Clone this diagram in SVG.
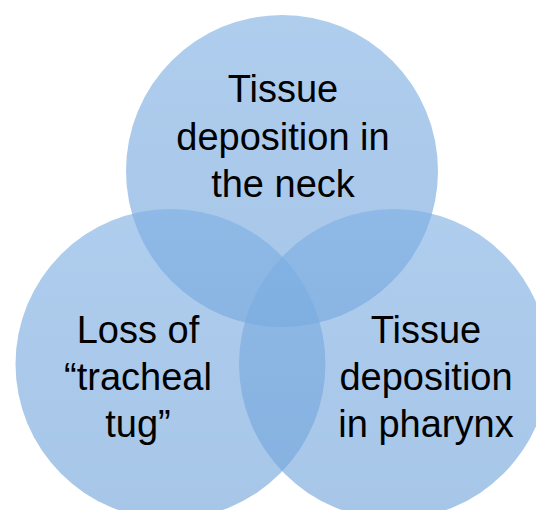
<svg xmlns="http://www.w3.org/2000/svg" width="536" height="510" viewBox="0 0 536 510">
  <defs>
    <linearGradient id="g" x1="0" y1="0" x2="0" y2="1">
      <stop offset="0" stop-color="#7eafe3"/>
      <stop offset="1" stop-color="#70a3da"/>
    </linearGradient>
    <style>
      .c { fill: url(#g); fill-opacity: 0.62; }
      .t { font-family: "Liberation Sans", Arial, sans-serif; font-size: 38px; fill: #000; text-anchor: middle; }
    </style>
  </defs>
  <rect width="536" height="510" fill="#ffffff"/>
  <g id="neck">
    <circle class="c" cx="282" cy="171" r="156"/>
  </g>
  <g id="tug">
    <circle class="c" cx="170.5" cy="364" r="155"/>
  </g>
  <g id="pharynx">
    <circle class="c" cx="394" cy="364" r="155"/>
  </g>
  <g id="connectors"></g>
  <g id="labels">
    <text class="t" x="283" y="102">Tissue</text>
    <text class="t" x="283" y="150">deposition in</text>
    <text class="t" x="283" y="197">the neck</text>
    <text class="t" x="138" y="343">Loss of</text>
    <text class="t" x="138" y="390">“tracheal</text>
    <text class="t" x="138" y="437">tug”</text>
    <text class="t" x="426" y="343">Tissue</text>
    <text class="t" x="426" y="390">deposition</text>
    <text class="t" x="426" y="437">in pharynx</text>
  </g>
</svg>
